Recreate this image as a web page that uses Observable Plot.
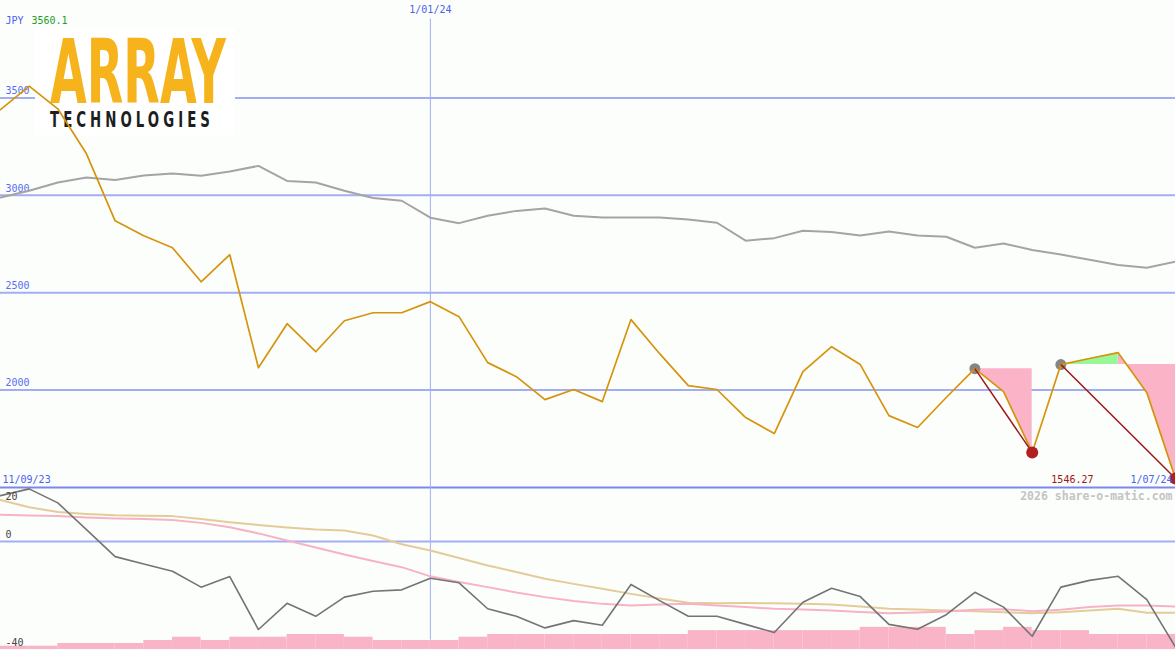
<!DOCTYPE html>
<html><head><meta charset="utf-8">
<script src="https://cdn.jsdelivr.net/npm/d3@7"></script>
<script src="https://cdn.jsdelivr.net/npm/@observablehq/plot@0.6"></script>
<style>
html,body{margin:0;padding:0;background:#fcfefc;}
#wrap{position:relative;width:1175px;height:650px;overflow:hidden;background:#fcfefc;}
#wrap svg{position:absolute;left:0;}
</style></head><body><div id="wrap"></div>
<script>
// ---- data ----
const currency = "JPY";
const maxLabel = "3560.1";
const startLabel = "11/09/23";
const midLabel = "1/01/24";
const endLabel = "1/07/24";
const lowLabel = "1546.27";
const watermark = "2026 share-o-matic.com";
const logoTitle = "ARRAY";
const logoSubtitle = "TECHNOLOGIES";
const midIndex = 15;
const price = [3440, 3560.1, 3444, 3213, 2869, 2792, 2731, 2556, 2695, 2115, 2341, 2197, 2356, 2397, 2397, 2454, 2377, 2141, 2069, 1951, 2003, 1941, 2362, 2187, 2023, 2003, 1859, 1777, 2095, 2223, 2131, 1869, 1808, 1962, 2110, 1992, 1680, 2131, 2162, 2192, 1987, 1546.27];
const benchmark = [2989, 3023, 3066, 3091, 3078, 3102, 3112, 3100, 3122, 3151, 3074, 3066, 3023, 2986, 2972, 2885, 2857, 2895, 2920, 2932, 2895, 2886, 2886, 2886, 2876, 2859, 2767, 2780, 2818, 2811, 2794, 2814, 2794, 2787, 2731, 2753, 2719, 2696, 2669, 2642, 2628, 2659];
const momentum = [17.0, 19.5, 14.3, 4.4, -5.6, -8.3, -11.0, -16.9, -13.0, -32.6, -22.9, -27.7, -20.6, -18.4, -17.9, -13.6, -15.3, -24.9, -27.7, -32.0, -29.3, -31.0, -15.9, -21.9, -27.7, -27.7, -30.7, -33.7, -22.5, -17.3, -20.4, -30.7, -32.5, -27.1, -18.8, -24.3, -35.1, -16.9, -14.4, -12.9, -21.5, -39.1];
const signalSlow = [15.4, 12.7, 10.9, 10.2, 9.7, 9.5, 9.4, 8.3, 7.1, 6.1, 5.2, 4.4, 4.1, 2.2, -1.0, -3.3, -6.1, -8.9, -11.3, -13.8, -15.7, -17.5, -19.4, -21.1, -22.7, -22.9, -22.8, -22.9, -23.1, -23.3, -24.1, -24.9, -25.2, -25.6, -25.8, -26.2, -26.6, -26.2, -25.6, -24.9, -26.4, -26.4];
const signalFast = [9.9, 9.6, 9.4, 8.9, 8.5, 8.3, 8.0, 6.9, 5.3, 3.0, 0.4, -2.2, -4.8, -7.2, -9.5, -12.9, -15.0, -16.9, -18.9, -20.6, -22.0, -23.1, -23.7, -23.3, -23.1, -23.7, -24.3, -24.9, -25.2, -25.6, -26.1, -26.6, -26.3, -25.9, -25.3, -25.1, -25.8, -25.3, -24.3, -23.7, -23.7, -24.1];
const volume = [1.1, 1.1, 2.0, 2.0, 2.0, 3.0, 4.1, 3.0, 4.1, 4.1, 5.0, 5.0, 4.1, 3.0, 3.0, 3.0, 4.1, 5.0, 5.0, 5.0, 5.0, 5.0, 5.0, 5.0, 6.3, 6.3, 6.3, 6.3, 6.3, 6.3, 7.4, 7.4, 7.4, 5.0, 6.3, 7.4, 6.3, 6.3, 5.0, 5.0, 5.0];
const priceTicks = [3500, 3000, 2500, 2000];
const oscTicks = [0, -40];
const oscTop = 20;
const drawdowns = [{peak: 34, trough: 36}, {peak: 37, trough: 41}];

// ---- derived ----
const mono = "'DejaVu Sans Mono', monospace";
const blue = "#4d5ef0";
const gridBlue = "#a3aef2";
const n = price.length;
const pinkFill = [], greenFill = [];
drawdowns.forEach((d, k) => {
  const ref = price[d.peak];
  let m = d.peak;
  for (let i = d.peak; i <= d.trough; i++) if (price[i] >= ref) m = i;
  for (let i = d.peak; i <= m; i++) if (m > d.peak) greenFill.push({seg: k, x: i, ref, p: price[i]});
  for (let i = m; i <= d.trough; i++) pinkFill.push({seg: k, x: i, ref, p: price[i]});
});
const peaks = drawdowns.map(d => d.peak);
const troughs = drawdowns.map(d => d.trough);

const logoFont = "'Liberation Sans Narrow','DejaVu Sans Condensed','Liberation Sans',sans-serif";
function logo() {
  const g = d3.create("svg:g").attr("text-anchor", "start");
  g.append("rect").attr("x", 35).attr("y", 28).attr("width", 200).attr("height", 108).attr("fill", "#ffffff");
  g.append("text").attr("x", 50).attr("y", 103).attr("textLength", 176).attr("lengthAdjust", "spacingAndGlyphs")
    .attr("text-anchor", "start").attr("font-family", logoFont)
    .attr("font-weight", "bold").attr("font-size", 89).attr("fill", "#f6b31c").text(logoTitle);
  g.append("text").attr("x", 50).attr("y", 126.5).attr("textLength", 164).attr("lengthAdjust", "spacingAndGlyphs")
    .attr("text-anchor", "start").attr("font-family", logoFont)
    .attr("font-weight", "bold").attr("font-size", 22).attr("letter-spacing", 6).attr("fill", "#1e1e1e").text(logoSubtitle);
  return g.node();
}

const idx = (d, i) => i;
const topChart = Plot.plot({
  width: 1175, height: 488, marginTop: 0, marginBottom: 1, marginLeft: 0, marginRight: 0,
  x: {domain: [0, n - 1], axis: null},
  y: {domain: [1500, 4000], axis: null},
  style: {background: "transparent", overflow: "visible"},
  marks: [
    Plot.ruleY(priceTicks, {stroke: gridBlue, strokeWidth: 2}),
    Plot.ruleY([1500], {stroke: "#7b88ea", strokeWidth: 2}),
    Plot.ruleX([midIndex], {y1: 3905, y2: 1500, stroke: gridBlue, strokeWidth: 1}),
    logo,
    Plot.text(priceTicks, {x: 0, y: d => d, text: d => String(d), dx: 5, dy: -7, textAnchor: "start", fill: "#5a6cf2", fontSize: 10, fontFamily: mono}),
    Plot.line(benchmark, {x: idx, y: d => d, stroke: "#a4a4a4", strokeWidth: 2}),
    Plot.areaY(pinkFill, {x: "x", y1: "ref", y2: "p", z: "seg", fill: "#fbb3c8", curve: "linear"}),
    Plot.areaY(greenFill, {x: "x", y1: "ref", y2: "p", z: "seg", fill: "#98f898", curve: "linear"}),
    Plot.dot(peaks, {x: d => d, y: d => price[d], r: 5.5, fill: "#858585"}),
    Plot.line(price, {x: idx, y: d => d, stroke: "#d6940c", strokeWidth: 1.7}),
    Plot.link(drawdowns, {x1: d => d.peak, y1: d => price[d.peak], x2: d => d.trough, y2: d => price[d.trough], stroke: "#9c1616", strokeWidth: 1.5}),
    Plot.dot(troughs, {x: d => d, y: d => price[d], r: 6, fill: "#b02020"}),
    Plot.text([currency], {frameAnchor: "top-left", lineAnchor: "middle", text: d => d, dx: 5, dy: 20, textAnchor: "start", fill: blue, fontSize: 10, fontFamily: mono}),
    Plot.text([maxLabel], {frameAnchor: "top-left", lineAnchor: "middle", text: d => d, dx: 31, dy: 20, textAnchor: "start", fill: "#1f9e1f", fontSize: 10, fontFamily: mono}),
    Plot.text([midLabel], {x: midIndex, frameAnchor: "top", lineAnchor: "middle", text: d => d, dy: 9, fill: blue, fontSize: 10, fontFamily: mono}),
    Plot.text([startLabel], {x: 0, y: 1500, text: d => d, dx: 2, dy: -8, textAnchor: "start", fill: blue, fontSize: 10, fontFamily: mono}),
    Plot.text([lowLabel], {x: n - 1, y: 1500, text: d => d, dx: -82, dy: -8, textAnchor: "end", fill: "#a01414", fontSize: 10, fontFamily: mono}),
    Plot.text([endLabel], {x: n - 1, y: 1500, text: d => d, dx: -45, dy: -8, textAnchor: "start", fill: blue, fontSize: 10, fontFamily: mono})
  ]
});
topChart.style.top = "0px";

const volUnit = 1.11;
const bottomChart = Plot.plot({
  width: 1175, height: 163, marginTop: 0, marginBottom: 1, marginLeft: 0, marginRight: 0,
  x: {domain: [0, n - 1], axis: null},
  y: {domain: [-40, oscTop], axis: null},
  style: {background: "transparent", overflow: "visible"},
  marks: [
    Plot.ruleY([0], {stroke: gridBlue, strokeWidth: 2}),
    Plot.ruleX([midIndex], {y1: oscTop, y2: -36.5, stroke: gridBlue, strokeWidth: 1}),
    Plot.rect(volume, {x1: idx, x2: (d, i) => i + 1, y1: -40, y2: d => -40 + d * volUnit, fill: "#f9b4c8"}),
    Plot.line(signalSlow, {x: idx, y: d => d, stroke: "#e4cc9a", strokeWidth: 2}),
    Plot.line(signalFast, {x: idx, y: d => d, stroke: "#f8b2c6", strokeWidth: 2}),
    Plot.line(momentum, {x: idx, y: d => d, stroke: "#747474", strokeWidth: 1.6}),
    Plot.text(oscTicks, {x: 0, y: d => d, text: d => String(d), dx: 5, dy: -7, textAnchor: "start", fill: "#444444", fontSize: 10, fontFamily: mono}),
    Plot.text([oscTop], {x: 0, y: d => d, text: d => String(d), dx: 5, dy: 9, textAnchor: "start", fill: "#444444", fontSize: 10, fontFamily: mono}),
    Plot.text([watermark], {frameAnchor: "top-right", lineAnchor: "middle", text: d => d, dx: -3, dy: 9, textAnchor: "end", fill: "#c4c4c4", fontSize: 11.5, fontWeight: "bold", fontFamily: mono})
  ]
});
bottomChart.style.top = "487px";

const wrap = document.getElementById("wrap");
wrap.appendChild(topChart);
wrap.appendChild(bottomChart);
</script></body></html>
